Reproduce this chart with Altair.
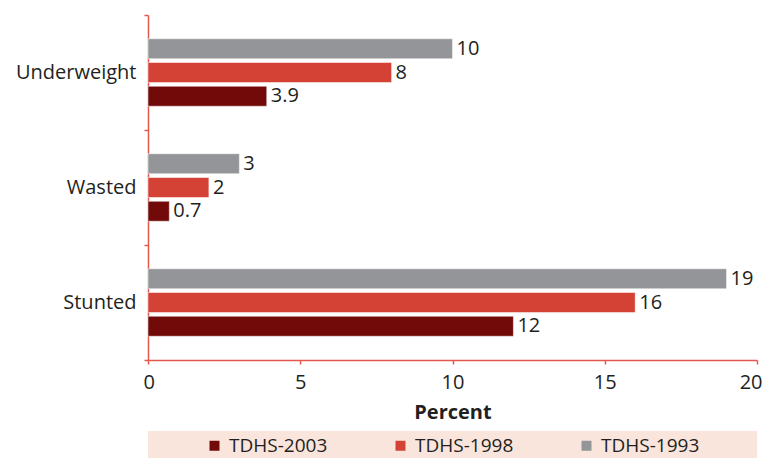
import altair as alt
import pandas as pd

categories = ["Underweight", "Wasted", "Stunted"]
surveys = ["TDHS-1993", "TDHS-1998", "TDHS-2003"]
v1993 = [10, 3, 19]
v1998 = [8, 2, 16]
v2003 = [3.9, 0.7, 12]
labels1993 = ["10", "3", "19"]
labels1998 = ["8", "2", "16"]
labels2003 = ["3.9", "0.7", "12"]

rows = []
for s, vals, labs in [("TDHS-1993", v1993, labels1993), ("TDHS-1998", v1998, labels1998), ("TDHS-2003", v2003, labels2003)]:
    for c, v, l in zip(categories, vals, labs):
        rows.append({"category": c, "survey": s, "value": v, "label": l})
df = pd.DataFrame(rows)

FONT = "Open Sans"
TXT = "#231F20"
AX = "#E4574C"
FS = 20
W, H = 609, 345

color_scale = alt.Scale(domain=["TDHS-2003", "TDHS-1998", "TDHS-1993"],
                        range=["#730A0A", "#D44236", "#939598"])

y_enc = alt.Y("category:N", sort=categories, title=None,
              scale=alt.Scale(paddingInner=0, paddingOuter=0),
              axis=alt.Axis(tickBand="extent", labelFontSize=FS, labelFont=FONT, labelColor=TXT,
                            labelPadding=8, tickSize=4, tickColor=AX, domainColor=AX,
                            domainWidth=1.5, tickWidth=1.5))
yoff = alt.YOffset("survey:N", sort=surveys,
                   scale=alt.Scale(paddingInner=0.158, paddingOuter=1))
x_enc = alt.X("value:Q", title="Percent",
              scale=alt.Scale(domain=[0, 20], nice=False),
              axis=alt.Axis(values=[0, 5, 10, 15, 20], grid=False, labelFlush=True, labelFlushOffset=5,
                            labelFontSize=FS, labelFont=FONT,
                            labelColor=TXT, labelPadding=8, tickSize=4, tickColor=AX, domainColor=AX,
                            domainWidth=1.5, tickWidth=1.5, titleFont=FONT, titleFontSize=FS,
                            titleFontWeight="bold", titleColor=TXT, titlePadding=10))

base = alt.Chart(df)
bars = base.mark_bar(stroke="white", strokeWidth=0.5).encode(
    x=x_enc, y=y_enc, yOffset=yoff,
    color=alt.Color("survey:N", scale=color_scale, title=None,
                    legend=alt.Legend(orient="none", direction="horizontal", legendX=57, legendY=421,
                                      labelFont=FONT, labelFontSize=19, labelColor=TXT,
                                      symbolType="square", symbolSize=100, symbolStrokeWidth=0,
                                      labelOffset=5, columnPadding=63, padding=0, gridAlign="all")),
)
text = base.mark_text(align="left", baseline="middle", dx=4, font=FONT, fontSize=FS, color=TXT).encode(
    x="value:Q", y=alt.Y("category:N", sort=categories), yOffset=alt.YOffset("survey:N", sort=surveys),
    text="label:N",
)
bg = alt.Chart(pd.DataFrame({"a": [0]})).mark_rect(color="#FAE5DD").encode(
    x=alt.value(0), x2=alt.value(W), y=alt.value(416), y2=alt.value(443)
)

chart = alt.layer(bg, bars, text).properties(
    width=W, height=H,
    autosize=alt.AutoSizeParams(type="none"),
    padding={"left": 140, "top": 7, "right": 6, "bottom": 98},
).configure_view(stroke=None)

chart.save("out.html", embed_options={"renderer": "svg", "actions": False})
